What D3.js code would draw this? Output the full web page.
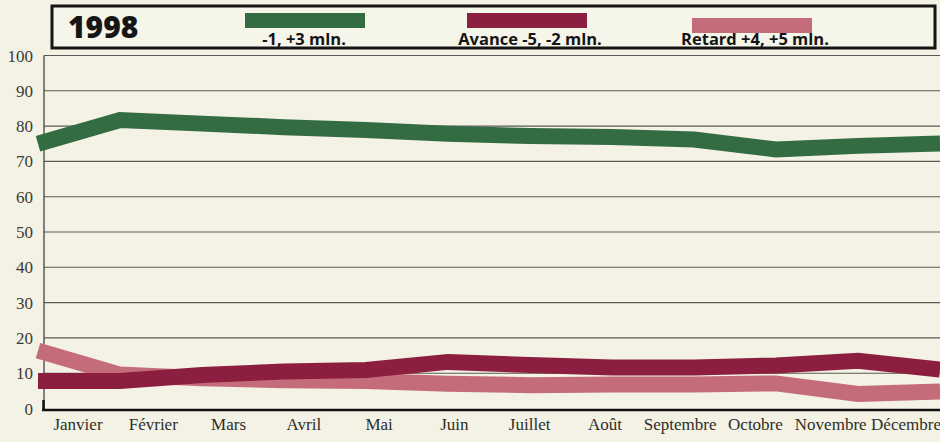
<!DOCTYPE html>
<html>
<head>
<meta charset="utf-8">
<script src="https://cdn.jsdelivr.net/npm/d3@7"></script>
<style>
  html, body { margin: 0; padding: 0; background: #f3f2e4; }
  svg { display: block; }
</style>
</head>
<body>
<svg id="chart" width="940" height="442"></svg>
<script>
// Ponctualité des trains, 1998 (% par mois)
const months = ["Janvier", "Février", "Mars", "Avril", "Mai", "Juin", "Juillet",
                "Août", "Septembre", "Octobre", "Novembre", "Décembre"];
const onTime  = [75.0, 81.7, 80.7, 79.7, 78.9, 77.8, 77.2, 76.9, 76.2, 73.4, 74.4, 75.1]; // -1, +3 min.
const early   = [7.8, 7.8, 9.5, 10.5, 10.9, 13.2, 12.3, 11.6, 11.6, 12.2, 13.5, 11.0];   // Avance -5, -2 min.
const late    = [16.4, 9.6, 8.6, 8.0, 7.8, 7.0, 6.6, 6.8, 6.8, 7.1, 4.1, 4.8];           // Retard +4, +5 min.
const yTicks  = [0, 10, 20, 30, 40, 50, 60, 70, 80, 90, 100];

const series = [
  { name: "Retard +4, +5 mln.", values: late,   color: "#c46c7a" },
  { name: "Avance -5, -2 mln.", values: early,  color: "#8c1f40" },
  { name: "-1, +3 mln.",        values: onTime, color: "#336b43" }
];
const legendOrder = [series[2], series[1], series[0]];

const svg = d3.select("#chart");
const plotLeft = 44, plotRight = 940, plotTop = 55.5, plotBottom = 408.5;

const y = d3.scaleLinear().domain([0, 100]).range([plotBottom, plotTop]);
const xLine = d3.scalePoint().domain(months).range([38, 940]);
const xLabel = d3.scalePoint().domain(months).range([78, 906]);

// horizontal grid
svg.append("g")
  .selectAll("line")
  .data(yTicks.filter(d => d > 0))
  .join("line")
  .attr("x1", plotLeft).attr("x2", plotRight)
  .attr("y1", d => y(d)).attr("y2", d => y(d))
  .attr("stroke", "#5a5a55").attr("stroke-width", 1.1);

// y axis labels
svg.append("g")
  .selectAll("text")
  .data(yTicks)
  .join("text")
  .attr("x", 33).attr("y", d => y(d) + 6)
  .attr("text-anchor", "end")
  .attr("font-family", "Liberation Serif, serif")
  .attr("font-size", 17)
  .attr("fill", "#3a3a36")
  .text(d => d);

// left axis
svg.append("line")
  .attr("x1", plotLeft).attr("x2", plotLeft)
  .attr("y1", plotTop).attr("y2", 410.5)
  .attr("stroke", "#444").attr("stroke-width", 1.3);
svg.append("line")
  .attr("x1", 43.5).attr("x2", 43.5)
  .attr("y1", 400).attr("y2", 411)
  .attr("stroke", "#111").attr("stroke-width", 2.5);

// month labels
svg.append("g")
  .selectAll("text")
  .data(months)
  .join("text")
  .attr("x", d => xLabel(d)).attr("y", 430)
  .attr("text-anchor", "middle")
  .attr("font-family", "Liberation Serif, serif")
  .attr("font-size", 17)
  .attr("fill", "#2e2e2a")
  .text(d => d);

// series lines
const line = d3.line()
  .x((d, i) => xLine(months[i]))
  .y(d => y(d));

svg.append("g")
  .selectAll("path")
  .data(series)
  .join("path")
  .attr("d", d => line(d.values))
  .attr("fill", "none")
  .attr("stroke", d => d.color)
  .attr("stroke-width", 16)
  .attr("stroke-linejoin", "miter")
  .attr("stroke-linecap", "butt");

// bottom axis
svg.append("line")
  .attr("x1", 42).attr("x2", 940)
  .attr("y1", 410).attr("y2", 410)
  .attr("stroke", "#111").attr("stroke-width", 2.6);

// legend box
const legend = svg.append("g");
legend.append("rect")
  .attr("x", 52).attr("y", 6)
  .attr("width", 883).attr("height", 42)
  .attr("fill", "#f6f5ea")
  .attr("stroke", "#151515").attr("stroke-width", 3);

legend.append("text")
  .attr("x", 68).attr("y", 38)
  .attr("font-family", "Open Sans, sans-serif")
  .attr("font-weight", 800)
  .attr("font-size", 30)
  .attr("fill", "#161616")
  .text("1998");

const swatchX = [305, 527, 752];
const swatchY = [13, 13, 18];
const labelX = [304, 530, 755];
legend.selectAll("g.item")
  .data(legendOrder)
  .join("g")
  .attr("class", "item")
  .each(function(d, i) {
    const g = d3.select(this);
    g.append("rect")
      .attr("x", swatchX[i] - 60).attr("y", swatchY[i])
      .attr("width", 120).attr("height", 15)
      .attr("fill", d.color);
    g.append("text")
      .attr("x", labelX[i]).attr("y", 45)
      .attr("text-anchor", "middle")
      .attr("font-family", "Open Sans, sans-serif")
      .attr("font-weight", 700)
      .attr("font-size", 16.5)
      .attr("fill", "#151515")
      .text(d.name);
  });
</script>
</body>
</html>
